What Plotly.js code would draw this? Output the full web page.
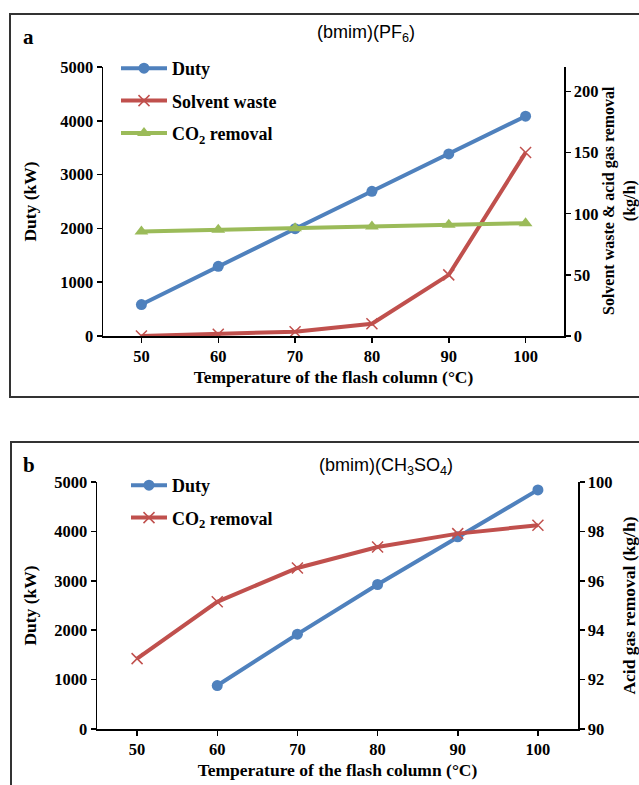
<!DOCTYPE html>
<html><head><meta charset="utf-8">
<script src="https://cdn.plot.ly/plotly-3.0.1.min.js"></script>
<style>html,body{margin:0;padding:0;background:#fff;} #chart{width:639px;height:785px;}</style>
</head><body><div id="chart"></div>
<script>
// ---- data ----
const temps = [50, 60, 70, 80, 90, 100];
const dutyA = [585, 1295, 1995, 2690, 3385, 4085];
const solventWasteA = [0, 1.4, 3.5, 10, 50, 150];
const co2RemovalA = [85.5, 86.8, 88.2, 89.6, 91, 92.3];
const tempsDutyB = [60, 70, 80, 90, 100];
const dutyB = [880, 1920, 2925, 3890, 4840];
const co2RemovalB = [92.85, 95.15, 96.52, 97.37, 97.91, 98.25];
const xTicks = [50, 60, 70, 80, 90, 100];
const titleA = '(bmim)(PF<sub>6</sub>)';
const titleB = '(bmim)(CH<sub>3</sub>SO<sub>4</sub>)';
const xTitle = 'Temperature of the flash column (°C)';
const rightTitleA = 'Solvent waste &amp; acid gas removal<br>(kg/h)';

const W = 639, H = 785;
const px = v => v / W;
const py = v => 1 - v / H;

const BLUE = '#4f81bd', RED = '#c0504d', GREEN = '#9bbb59';
const serif = 'Liberation Serif, Times New Roman, serif';

const axisBase = {
  showline: true, linecolor: '#000', linewidth: 1.5,
  ticks: 'outside', ticklen: 5, tickwidth: 1.5, tickcolor: '#000',
  showgrid: false, zeroline: false, fixedrange: true,
  tickfont: {family: serif, size: 16.5, color: '#000', weight: 'bold'}
};
const titleFont = {family: serif, size: 17.5, color: '#000', weight: 'bold'};

const traces = [
  {x: temps, y: dutyA, name: 'Duty', type: 'scatter', mode: 'lines+markers',
   xaxis: 'x', yaxis: 'y', legend: 'legend', legendgroup: 'a1',
   line: {color: BLUE, width: 4}, marker: {symbol: 'circle', size: 11, color: BLUE}},
  {x: temps, y: solventWasteA, name: 'Solvent waste', type: 'scatter', mode: 'lines+markers',
   xaxis: 'x', yaxis: 'y2', legend: 'legend', legendgroup: 'a2',
   line: {color: RED, width: 4}, marker: {symbol: 'x-thin', size: 11, color: RED, line: {color: RED, width: 1.5}}},
  {x: temps, y: co2RemovalA, name: 'CO<sub>2</sub> removal', type: 'scatter', mode: 'lines+markers',
   xaxis: 'x', yaxis: 'y2', legend: 'legend', legendgroup: 'a3',
   line: {color: GREEN, width: 4}, marker: {symbol: 'triangle-up', size: 12, color: GREEN}},
  {x: tempsDutyB, y: dutyB, name: 'Duty', type: 'scatter', mode: 'lines+markers',
   xaxis: 'x2', yaxis: 'y3', legend: 'legend2', legendgroup: 'b1',
   line: {color: BLUE, width: 4}, marker: {symbol: 'circle', size: 11, color: BLUE}},
  {x: temps, y: co2RemovalB, name: 'CO<sub>2</sub> removal', type: 'scatter', mode: 'lines+markers',
   xaxis: 'x2', yaxis: 'y4', legend: 'legend2', legendgroup: 'b2',
   line: {color: RED, width: 4}, marker: {symbol: 'x-thin', size: 11, color: RED, line: {color: RED, width: 1.5}}}
];

const legendBase = {
  xanchor: 'left', yanchor: 'top', bgcolor: 'rgba(0,0,0,0)', borderwidth: 0,
  font: {family: serif, size: 18, color: '#000', weight: 'bold'},
  traceorder: 'grouped', tracegroupgap: 6
};

const layout = {
  width: W, height: H, margin: {l: 0, r: 0, t: 0, b: 0},
  paper_bgcolor: '#fff', plot_bgcolor: 'rgba(0,0,0,0)',
  showlegend: true,
  title: {text: titleA, x: px(366), xanchor: 'center', y: py(32), yanchor: 'middle',
          font: {family: 'Liberation Sans, Arial, sans-serif', size: 18, color: '#000'}},
  legend: Object.assign({}, legendBase, {x: px(116), y: py(50), itemwidth: 46}),
  legend2: Object.assign({}, legendBase, {x: px(126), y: py(467), itemwidth: 36}),
  xaxis: Object.assign({}, axisBase, {domain: [px(103), px(564)], anchor: 'y', range: [45, 105],
    tickvals: xTicks, title: {text: xTitle, font: titleFont, standoff: 5}}),
  yaxis: Object.assign({}, axisBase, {domain: [py(336), py(67)], anchor: 'x', range: [0, 5000], dtick: 1000,
    title: {text: 'Duty (kW)', font: titleFont, standoff: 19}}),
  yaxis2: Object.assign({}, axisBase, {overlaying: 'y', side: 'right', anchor: 'x', range: [0, 220], tickvals: [0, 50, 100, 150, 200]}),
  xaxis2: Object.assign({}, axisBase, {domain: [px(97), px(578)], anchor: 'y3', range: [45, 105],
    tickvals: xTicks, title: {text: xTitle, font: titleFont, standoff: 5}}),
  yaxis3: Object.assign({}, axisBase, {domain: [py(729), py(482)], anchor: 'x2', range: [0, 5000], dtick: 1000,
    title: {text: 'Duty (kW)', font: titleFont, standoff: 13}}),
  yaxis4: Object.assign({}, axisBase, {overlaying: 'y3', side: 'right', anchor: 'x2', range: [90, 100], dtick: 2,
    title: {text: 'Acid gas removal (kg/h)', font: titleFont, standoff: 17}}),
  shapes: [
    {type: 'rect', xref: 'paper', yref: 'paper', x0: px(10), x1: px(660), y0: py(397), y1: py(14),
     line: {color: '#333', width: 2}, fillcolor: 'rgba(0,0,0,0)', layer: 'below'},
    {type: 'rect', xref: 'paper', yref: 'paper', x0: px(11), x1: px(660), y0: py(810), y1: py(442),
     line: {color: '#333', width: 2}, fillcolor: 'rgba(0,0,0,0)', layer: 'below'}
  ],
  annotations: [
    {text: 'a', xref: 'paper', yref: 'paper', x: px(28), y: py(37), xanchor: 'center', yanchor: 'middle',
     showarrow: false, font: {family: serif, size: 21, color: '#000', weight: 'bold'}},
    {text: 'b', xref: 'paper', yref: 'paper', x: px(29), y: py(465), xanchor: 'center', yanchor: 'middle',
     showarrow: false, font: {family: serif, size: 21, color: '#000', weight: 'bold'}},
    {text: titleB, xref: 'paper', yref: 'paper', x: px(386), y: py(466), xanchor: 'center', yanchor: 'middle',
     showarrow: false, font: {family: 'Liberation Sans, Arial, sans-serif', size: 18, color: '#000'}},
    {text: rightTitleA, xref: 'paper', yref: 'paper', x: px(620), y: py(201), xanchor: 'center', yanchor: 'middle',
     textangle: -90, showarrow: false, font: {family: serif, size: 16, color: '#000', weight: 'bold'}}
  ]
};

Plotly.newPlot('chart', traces, layout, {displayModeBar: false, staticPlot: true});
</script>
</body></html>
